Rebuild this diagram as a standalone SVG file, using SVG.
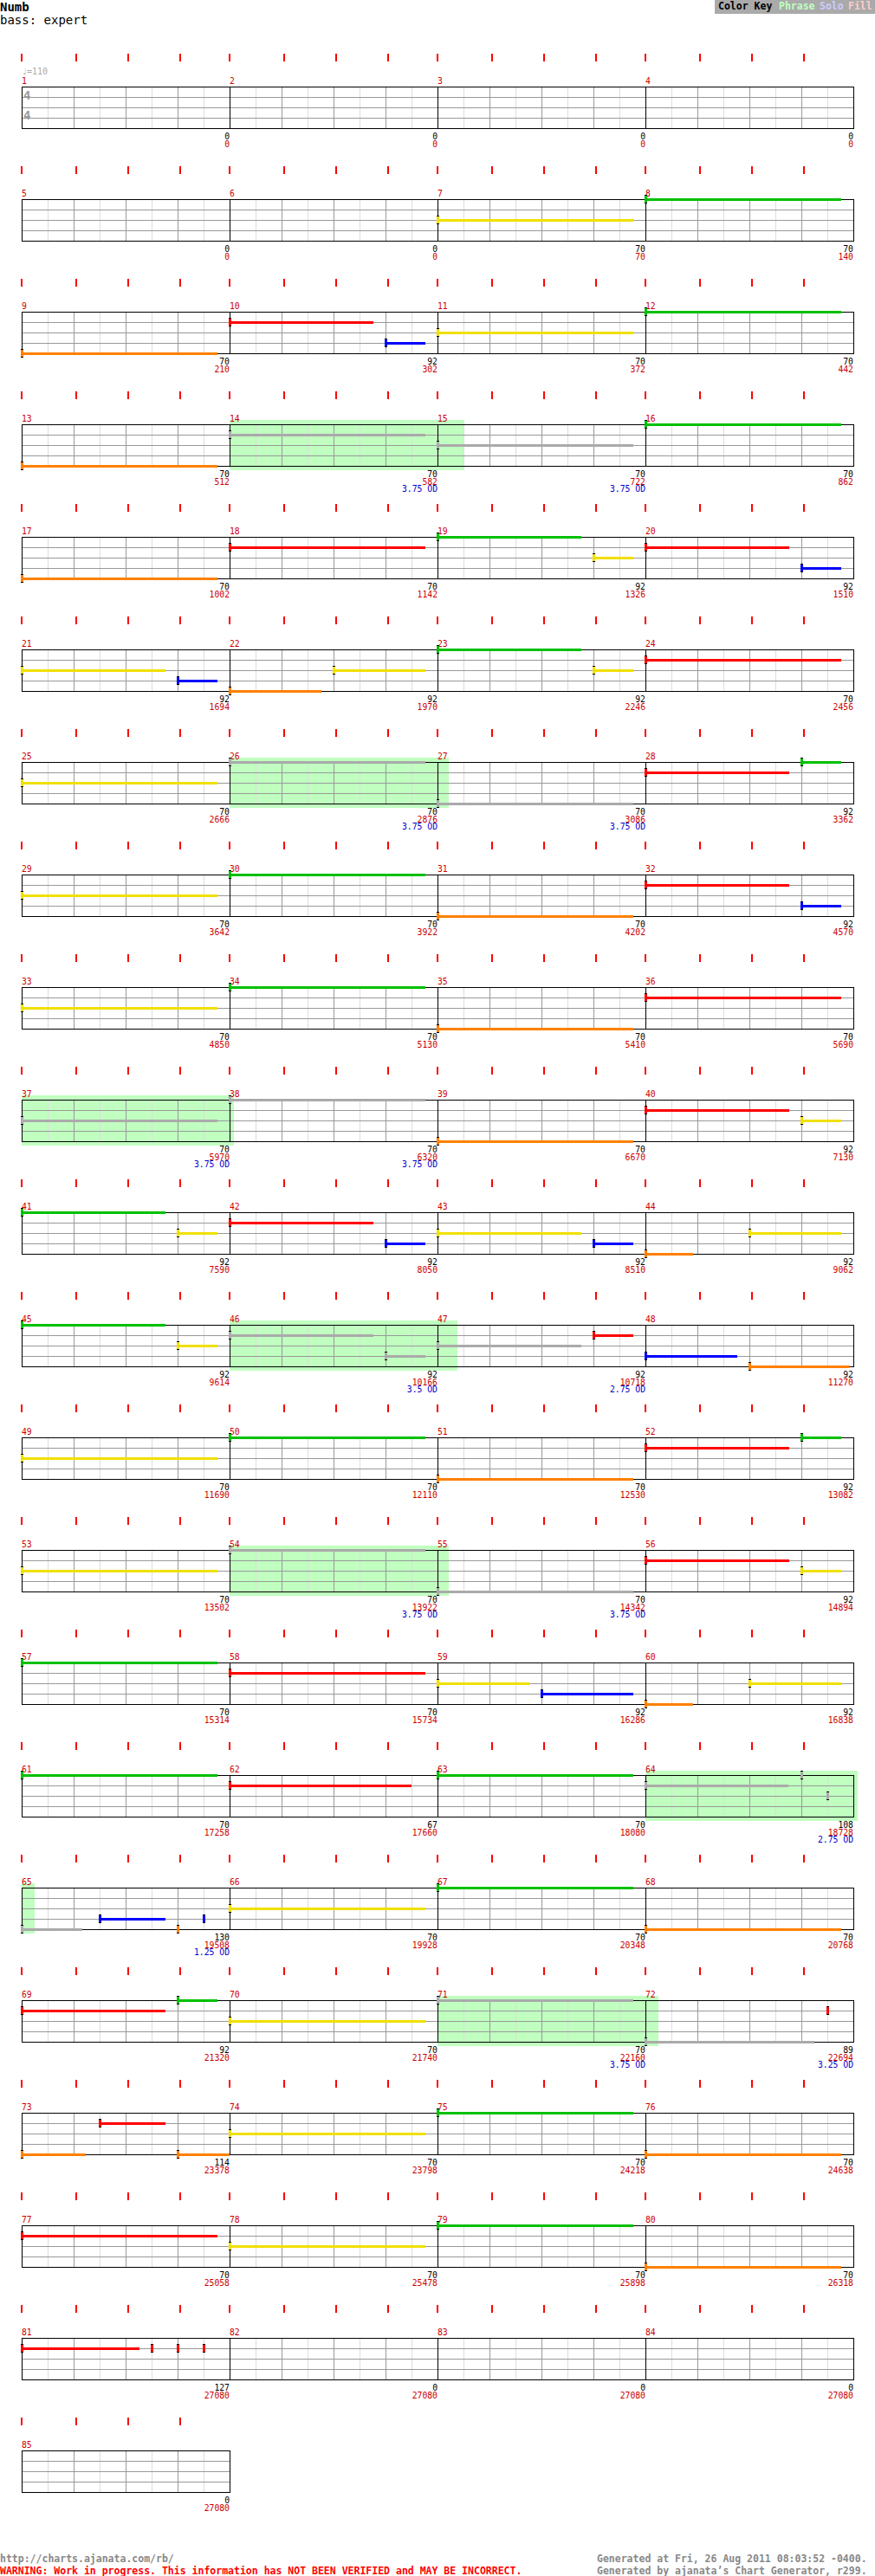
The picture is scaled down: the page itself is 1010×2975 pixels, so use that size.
<svg xmlns="http://www.w3.org/2000/svg" xmlns:xlink="http://www.w3.org/1999/xlink" width="1010" height="2975" viewBox="0 0 1010 2975">
<style>
text{font-family:"DejaVu Sans Mono","Liberation Mono",monospace}
.mn{font-size:9.75px;fill:#c00}
.sc{font-size:9.75px;fill:#000;text-anchor:end}
.cu{font-size:9.75px;fill:#c00;text-anchor:end}
.od{font-size:9.75px;fill:#00c;text-anchor:end}
.G{fill:#00c000}.R{fill:#f00}.Y{fill:#f0e000}.B{fill:#00f}.O{fill:#ff8000}.X{fill:#aaa}
.ph{fill:#c0ffc0}
.ft{font-size:11.5px;font-weight:bold}
</style>
<defs>
<g id="grid" fill="none">
<path d="M30.5 0V48M90.5 0V48M150.5 0V48M210.5 0V48" stroke="#ddd"/>
<path d="M60.5 0V48M120.5 0V48M180.5 0V48M0 12.5H240M0 24.5H240M0 36.5H240" stroke="#999"/>
<path d="M0.5 0V49M240.5 0V49M0 0.5H241M0 48.5H241" stroke="#000"/>
</g>
<g id="tk" fill="#f00"><rect x="-1" y="-38" width="2" height="9"/><rect x="62" y="-38" width="2" height="9"/><rect x="122" y="-38" width="2" height="9"/><rect x="182" y="-38" width="2" height="9"/></g>
<g id="kG"><rect x="-1" y="-5" width="3" height="10"/><rect class="G" x="-1" y="-4" width="3" height="8"/></g>
<g id="kR"><rect x="-1" y="-5" width="3" height="10"/><rect class="R" x="-1" y="-4" width="3" height="8"/></g>
<g id="kY"><rect x="-1" y="-5" width="3" height="10"/><rect class="Y" x="-1" y="-4" width="3" height="8"/></g>
<g id="kB"><rect x="-1" y="-5" width="3" height="10"/><rect class="B" x="-1" y="-4" width="3" height="8"/></g>
<g id="kO"><rect x="-1" y="-5" width="3" height="10"/><rect class="O" x="-1" y="-4" width="3" height="8"/></g>
<g id="kX"><rect x="-1" y="-5" width="3" height="10"/><rect class="X" x="-1" y="-4" width="3" height="8"/></g>
</defs>
<rect width="1010" height="2975" fill="#fff"/>
<g id="header">
<text x="0" y="12.7" style="font-size:14px;font-weight:bold">Numb</text>
<text x="0" y="28" style="font-size:14px">bass: expert</text>
<rect x="825" y="0" width="185" height="16" fill="#aaa"/>
<text class="ft" x="829" y="11" fill="#000">Color Key</text>
<text class="ft" x="899" y="11" fill="#c0ffc0">Phrase</text>
<text class="ft" x="946" y="11" fill="#ccf">Solo</text>
<text class="ft" x="979" y="11" fill="#fcc">Fill</text>
</g>
<g id="phrases">
<rect class="ph" x="265" y="485" width="271" height="58"/>
<rect class="ph" x="265" y="875" width="253" height="58"/>
<rect class="ph" x="25" y="1265" width="245" height="58"/>
<rect class="ph" x="265" y="1525" width="263" height="58"/>
<rect class="ph" x="265" y="1785" width="253" height="58"/>
<rect class="ph" x="745" y="2045" width="245" height="58"/>
<rect class="ph" x="25" y="2175" width="15" height="58"/>
<rect class="ph" x="505" y="2305" width="255" height="58"/>
</g>
<g id="m1" transform="translate(25,100)"><use href="#grid"/><use href="#tk"/><text class="mn" y="-3">1</text><text x="0" y="-14" style="font-size:10px;fill:#aaa">♩=110</text><text x="2" y="15" style="font-size:14px;font-weight:bold;fill:#999">4</text><text x="2" y="38" style="font-size:14px;font-weight:bold;fill:#999">4</text><text class="sc" x="240" y="61">0</text><text class="cu" x="240" y="69.5">0</text></g>
<g id="m2" transform="translate(265,100)"><use href="#grid"/><use href="#tk"/><text class="mn" y="-3">2</text><text class="sc" x="240" y="61">0</text><text class="cu" x="240" y="69.5">0</text></g>
<g id="m3" transform="translate(505,100)"><use href="#grid"/><use href="#tk"/><text class="mn" y="-3">3</text><text class="sc" x="240" y="61">0</text><text class="cu" x="240" y="69.5">0</text></g>
<g id="m4" transform="translate(745,100)"><use href="#grid"/><use href="#tk"/><text class="mn" y="-3">4</text><text class="sc" x="240" y="61">0</text><text class="cu" x="240" y="69.5">0</text></g>

<g id="m5" transform="translate(25,230)"><use href="#grid"/><use href="#tk"/><text class="mn" y="-3">5</text><text class="sc" x="240" y="61">0</text><text class="cu" x="240" y="69.5">0</text></g>
<g id="m6" transform="translate(265,230)"><use href="#grid"/><use href="#tk"/><text class="mn" y="-3">6</text><text class="sc" x="240" y="61">0</text><text class="cu" x="240" y="69.5">0</text></g>
<g id="m7" transform="translate(505,230)"><use href="#grid"/><use href="#tk"/><text class="mn" y="-3">7</text><rect class="Y" x="0" y="23" width="226" height="3"/><use href="#kY" y="24"/><text class="sc" x="240" y="61">70</text><text class="cu" x="240" y="69.5">70</text></g>
<g id="m8" transform="translate(745,230)"><use href="#grid"/><use href="#tk"/><text class="mn" y="-3">8</text><rect class="G" x="0" y="-1" width="226" height="3"/><use href="#kG" y="0"/><text class="sc" x="240" y="61">70</text><text class="cu" x="240" y="69.5">140</text></g>

<g id="m9" transform="translate(25,360)"><use href="#grid"/><use href="#tk"/><text class="mn" y="-3">9</text><rect class="O" x="0" y="47" width="226" height="3"/><use href="#kO" y="48"/><text class="sc" x="240" y="61">70</text><text class="cu" x="240" y="69.5">210</text></g>
<g id="m10" transform="translate(265,360)"><use href="#grid"/><use href="#tk"/><text class="mn" y="-3">10</text><rect class="R" x="0" y="11" width="166" height="3"/><use href="#kR" y="12"/><rect class="B" x="180" y="35" width="46" height="3"/><use href="#kB" x="180" y="36"/><text class="sc" x="240" y="61">92</text><text class="cu" x="240" y="69.5">302</text></g>
<g id="m11" transform="translate(505,360)"><use href="#grid"/><use href="#tk"/><text class="mn" y="-3">11</text><rect class="Y" x="0" y="23" width="226" height="3"/><use href="#kY" y="24"/><text class="sc" x="240" y="61">70</text><text class="cu" x="240" y="69.5">372</text></g>
<g id="m12" transform="translate(745,360)"><use href="#grid"/><use href="#tk"/><text class="mn" y="-3">12</text><rect class="G" x="0" y="-1" width="226" height="3"/><use href="#kG" y="0"/><text class="sc" x="240" y="61">70</text><text class="cu" x="240" y="69.5">442</text></g>

<g id="m13" transform="translate(25,490)"><use href="#grid"/><use href="#tk"/><text class="mn" y="-3">13</text><rect class="O" x="0" y="47" width="226" height="3"/><use href="#kO" y="48"/><text class="sc" x="240" y="61">70</text><text class="cu" x="240" y="69.5">512</text></g>
<g id="m14" transform="translate(265,490)"><use href="#grid"/><use href="#tk"/><text class="mn" y="-3">14</text><rect class="X" x="0" y="11" width="226" height="3"/><use href="#kX" y="12"/><text class="sc" x="240" y="61">70</text><text class="cu" x="240" y="69.5">582</text><text class="od" x="240" y="78">3.75 OD</text></g>
<g id="m15" transform="translate(505,490)"><use href="#grid"/><use href="#tk"/><text class="mn" y="-3">15</text><rect class="X" x="0" y="23" width="226" height="3"/><use href="#kX" y="24"/><text class="sc" x="240" y="61">70</text><text class="cu" x="240" y="69.5">722</text><text class="od" x="240" y="78">3.75 OD</text></g>
<g id="m16" transform="translate(745,490)"><use href="#grid"/><use href="#tk"/><text class="mn" y="-3">16</text><rect class="G" x="0" y="-1" width="226" height="3"/><use href="#kG" y="0"/><text class="sc" x="240" y="61">70</text><text class="cu" x="240" y="69.5">862</text></g>

<g id="m17" transform="translate(25,620)"><use href="#grid"/><use href="#tk"/><text class="mn" y="-3">17</text><rect class="O" x="0" y="47" width="226" height="3"/><use href="#kO" y="48"/><text class="sc" x="240" y="61">70</text><text class="cu" x="240" y="69.5">1002</text></g>
<g id="m18" transform="translate(265,620)"><use href="#grid"/><use href="#tk"/><text class="mn" y="-3">18</text><rect class="R" x="0" y="11" width="226" height="3"/><use href="#kR" y="12"/><text class="sc" x="240" y="61">70</text><text class="cu" x="240" y="69.5">1142</text></g>
<g id="m19" transform="translate(505,620)"><use href="#grid"/><use href="#tk"/><text class="mn" y="-3">19</text><rect class="G" x="0" y="-1" width="166" height="3"/><use href="#kG" y="0"/><rect class="Y" x="180" y="23" width="46" height="3"/><use href="#kY" x="180" y="24"/><text class="sc" x="240" y="61">92</text><text class="cu" x="240" y="69.5">1326</text></g>
<g id="m20" transform="translate(745,620)"><use href="#grid"/><use href="#tk"/><text class="mn" y="-3">20</text><rect class="R" x="0" y="11" width="166" height="3"/><use href="#kR" y="12"/><rect class="B" x="180" y="35" width="46" height="3"/><use href="#kB" x="180" y="36"/><text class="sc" x="240" y="61">92</text><text class="cu" x="240" y="69.5">1510</text></g>

<g id="m21" transform="translate(25,750)"><use href="#grid"/><use href="#tk"/><text class="mn" y="-3">21</text><rect class="Y" x="0" y="23" width="166" height="3"/><use href="#kY" y="24"/><rect class="B" x="180" y="35" width="46" height="3"/><use href="#kB" x="180" y="36"/><text class="sc" x="240" y="61">92</text><text class="cu" x="240" y="69.5">1694</text></g>
<g id="m22" transform="translate(265,750)"><use href="#grid"/><use href="#tk"/><text class="mn" y="-3">22</text><rect class="O" x="0" y="47" width="106" height="3"/><use href="#kO" y="48"/><rect class="Y" x="120" y="23" width="106" height="3"/><use href="#kY" x="120" y="24"/><text class="sc" x="240" y="61">92</text><text class="cu" x="240" y="69.5">1970</text></g>
<g id="m23" transform="translate(505,750)"><use href="#grid"/><use href="#tk"/><text class="mn" y="-3">23</text><rect class="G" x="0" y="-1" width="166" height="3"/><use href="#kG" y="0"/><rect class="Y" x="180" y="23" width="46" height="3"/><use href="#kY" x="180" y="24"/><text class="sc" x="240" y="61">92</text><text class="cu" x="240" y="69.5">2246</text></g>
<g id="m24" transform="translate(745,750)"><use href="#grid"/><use href="#tk"/><text class="mn" y="-3">24</text><rect class="R" x="0" y="11" width="226" height="3"/><use href="#kR" y="12"/><text class="sc" x="240" y="61">70</text><text class="cu" x="240" y="69.5">2456</text></g>

<g id="m25" transform="translate(25,880)"><use href="#grid"/><use href="#tk"/><text class="mn" y="-3">25</text><rect class="Y" x="0" y="23" width="226" height="3"/><use href="#kY" y="24"/><text class="sc" x="240" y="61">70</text><text class="cu" x="240" y="69.5">2666</text></g>
<g id="m26" transform="translate(265,880)"><use href="#grid"/><use href="#tk"/><text class="mn" y="-3">26</text><rect class="X" x="0" y="-1" width="226" height="3"/><use href="#kX" y="0"/><text class="sc" x="240" y="61">70</text><text class="cu" x="240" y="69.5">2876</text><text class="od" x="240" y="78">3.75 OD</text></g>
<g id="m27" transform="translate(505,880)"><use href="#grid"/><use href="#tk"/><text class="mn" y="-3">27</text><rect class="X" x="0" y="47" width="226" height="3"/><use href="#kX" y="48"/><text class="sc" x="240" y="61">70</text><text class="cu" x="240" y="69.5">3086</text><text class="od" x="240" y="78">3.75 OD</text></g>
<g id="m28" transform="translate(745,880)"><use href="#grid"/><use href="#tk"/><text class="mn" y="-3">28</text><rect class="R" x="0" y="11" width="166" height="3"/><use href="#kR" y="12"/><rect class="G" x="180" y="-1" width="46" height="3"/><use href="#kG" x="180" y="0"/><text class="sc" x="240" y="61">92</text><text class="cu" x="240" y="69.5">3362</text></g>

<g id="m29" transform="translate(25,1010)"><use href="#grid"/><use href="#tk"/><text class="mn" y="-3">29</text><rect class="Y" x="0" y="23" width="226" height="3"/><use href="#kY" y="24"/><text class="sc" x="240" y="61">70</text><text class="cu" x="240" y="69.5">3642</text></g>
<g id="m30" transform="translate(265,1010)"><use href="#grid"/><use href="#tk"/><text class="mn" y="-3">30</text><rect class="G" x="0" y="-1" width="226" height="3"/><use href="#kG" y="0"/><text class="sc" x="240" y="61">70</text><text class="cu" x="240" y="69.5">3922</text></g>
<g id="m31" transform="translate(505,1010)"><use href="#grid"/><use href="#tk"/><text class="mn" y="-3">31</text><rect class="O" x="0" y="47" width="226" height="3"/><use href="#kO" y="48"/><text class="sc" x="240" y="61">70</text><text class="cu" x="240" y="69.5">4202</text></g>
<g id="m32" transform="translate(745,1010)"><use href="#grid"/><use href="#tk"/><text class="mn" y="-3">32</text><rect class="R" x="0" y="11" width="166" height="3"/><use href="#kR" y="12"/><rect class="B" x="180" y="35" width="46" height="3"/><use href="#kB" x="180" y="36"/><text class="sc" x="240" y="61">92</text><text class="cu" x="240" y="69.5">4570</text></g>

<g id="m33" transform="translate(25,1140)"><use href="#grid"/><use href="#tk"/><text class="mn" y="-3">33</text><rect class="Y" x="0" y="23" width="226" height="3"/><use href="#kY" y="24"/><text class="sc" x="240" y="61">70</text><text class="cu" x="240" y="69.5">4850</text></g>
<g id="m34" transform="translate(265,1140)"><use href="#grid"/><use href="#tk"/><text class="mn" y="-3">34</text><rect class="G" x="0" y="-1" width="226" height="3"/><use href="#kG" y="0"/><text class="sc" x="240" y="61">70</text><text class="cu" x="240" y="69.5">5130</text></g>
<g id="m35" transform="translate(505,1140)"><use href="#grid"/><use href="#tk"/><text class="mn" y="-3">35</text><rect class="O" x="0" y="47" width="226" height="3"/><use href="#kO" y="48"/><text class="sc" x="240" y="61">70</text><text class="cu" x="240" y="69.5">5410</text></g>
<g id="m36" transform="translate(745,1140)"><use href="#grid"/><use href="#tk"/><text class="mn" y="-3">36</text><rect class="R" x="0" y="11" width="226" height="3"/><use href="#kR" y="12"/><text class="sc" x="240" y="61">70</text><text class="cu" x="240" y="69.5">5690</text></g>

<g id="m37" transform="translate(25,1270)"><use href="#grid"/><use href="#tk"/><text class="mn" y="-3">37</text><rect class="X" x="0" y="23" width="226" height="3"/><use href="#kX" y="24"/><text class="sc" x="240" y="61">70</text><text class="cu" x="240" y="69.5">5970</text><text class="od" x="240" y="78">3.75 OD</text></g>
<g id="m38" transform="translate(265,1270)"><use href="#grid"/><use href="#tk"/><text class="mn" y="-3">38</text><rect class="X" x="0" y="-1" width="226" height="3"/><use href="#kX" y="0"/><text class="sc" x="240" y="61">70</text><text class="cu" x="240" y="69.5">6320</text><text class="od" x="240" y="78">3.75 OD</text></g>
<g id="m39" transform="translate(505,1270)"><use href="#grid"/><use href="#tk"/><text class="mn" y="-3">39</text><rect class="O" x="0" y="47" width="226" height="3"/><use href="#kO" y="48"/><text class="sc" x="240" y="61">70</text><text class="cu" x="240" y="69.5">6670</text></g>
<g id="m40" transform="translate(745,1270)"><use href="#grid"/><use href="#tk"/><text class="mn" y="-3">40</text><rect class="R" x="0" y="11" width="166" height="3"/><use href="#kR" y="12"/><rect class="Y" x="180" y="23" width="46" height="3"/><use href="#kY" x="180" y="24"/><text class="sc" x="240" y="61">92</text><text class="cu" x="240" y="69.5">7130</text></g>

<g id="m41" transform="translate(25,1400)"><use href="#grid"/><use href="#tk"/><text class="mn" y="-3">41</text><rect class="G" x="0" y="-1" width="166" height="3"/><use href="#kG" y="0"/><rect class="Y" x="180" y="23" width="46" height="3"/><use href="#kY" x="180" y="24"/><text class="sc" x="240" y="61">92</text><text class="cu" x="240" y="69.5">7590</text></g>
<g id="m42" transform="translate(265,1400)"><use href="#grid"/><use href="#tk"/><text class="mn" y="-3">42</text><rect class="R" x="0" y="11" width="166" height="3"/><use href="#kR" y="12"/><rect class="B" x="180" y="35" width="46" height="3"/><use href="#kB" x="180" y="36"/><text class="sc" x="240" y="61">92</text><text class="cu" x="240" y="69.5">8050</text></g>
<g id="m43" transform="translate(505,1400)"><use href="#grid"/><use href="#tk"/><text class="mn" y="-3">43</text><rect class="Y" x="0" y="23" width="166" height="3"/><use href="#kY" y="24"/><rect class="B" x="180" y="35" width="46" height="3"/><use href="#kB" x="180" y="36"/><text class="sc" x="240" y="61">92</text><text class="cu" x="240" y="69.5">8510</text></g>
<g id="m44" transform="translate(745,1400)"><use href="#grid"/><use href="#tk"/><text class="mn" y="-3">44</text><rect class="O" x="0" y="47" width="55" height="3"/><use href="#kO" y="48"/><rect class="Y" x="120" y="23" width="106" height="3"/><use href="#kY" x="120" y="24"/><text class="sc" x="240" y="61">92</text><text class="cu" x="240" y="69.5">9062</text></g>

<g id="m45" transform="translate(25,1530)"><use href="#grid"/><use href="#tk"/><text class="mn" y="-3">45</text><rect class="G" x="0" y="-1" width="166" height="3"/><use href="#kG" y="0"/><rect class="Y" x="180" y="23" width="46" height="3"/><use href="#kY" x="180" y="24"/><text class="sc" x="240" y="61">92</text><text class="cu" x="240" y="69.5">9614</text></g>
<g id="m46" transform="translate(265,1530)"><use href="#grid"/><use href="#tk"/><text class="mn" y="-3">46</text><rect class="X" x="0" y="11" width="166" height="3"/><use href="#kX" y="12"/><rect class="X" x="180" y="35" width="46" height="3"/><use href="#kX" x="180" y="36"/><text class="sc" x="240" y="61">92</text><text class="cu" x="240" y="69.5">10166</text><text class="od" x="240" y="78">3.5 OD</text></g>
<g id="m47" transform="translate(505,1530)"><use href="#grid"/><use href="#tk"/><text class="mn" y="-3">47</text><rect class="X" x="0" y="23" width="166" height="3"/><use href="#kX" y="24"/><rect class="R" x="180" y="11" width="46" height="3"/><use href="#kR" x="180" y="12"/><text class="sc" x="240" y="61">92</text><text class="cu" x="240" y="69.5">10718</text><text class="od" x="240" y="78">2.75 OD</text></g>
<g id="m48" transform="translate(745,1530)"><use href="#grid"/><use href="#tk"/><text class="mn" y="-3">48</text><rect class="B" x="0" y="35" width="106" height="3"/><use href="#kB" y="36"/><rect class="O" x="120" y="47" width="115" height="3"/><use href="#kO" x="120" y="48"/><text class="sc" x="240" y="61">92</text><text class="cu" x="240" y="69.5">11270</text></g>

<g id="m49" transform="translate(25,1660)"><use href="#grid"/><use href="#tk"/><text class="mn" y="-3">49</text><rect class="Y" x="0" y="23" width="226" height="3"/><use href="#kY" y="24"/><text class="sc" x="240" y="61">70</text><text class="cu" x="240" y="69.5">11690</text></g>
<g id="m50" transform="translate(265,1660)"><use href="#grid"/><use href="#tk"/><text class="mn" y="-3">50</text><rect class="G" x="0" y="-1" width="226" height="3"/><use href="#kG" y="0"/><text class="sc" x="240" y="61">70</text><text class="cu" x="240" y="69.5">12110</text></g>
<g id="m51" transform="translate(505,1660)"><use href="#grid"/><use href="#tk"/><text class="mn" y="-3">51</text><rect class="O" x="0" y="47" width="226" height="3"/><use href="#kO" y="48"/><text class="sc" x="240" y="61">70</text><text class="cu" x="240" y="69.5">12530</text></g>
<g id="m52" transform="translate(745,1660)"><use href="#grid"/><use href="#tk"/><text class="mn" y="-3">52</text><rect class="R" x="0" y="11" width="166" height="3"/><use href="#kR" y="12"/><rect class="G" x="180" y="-1" width="46" height="3"/><use href="#kG" x="180" y="0"/><text class="sc" x="240" y="61">92</text><text class="cu" x="240" y="69.5">13082</text></g>

<g id="m53" transform="translate(25,1790)"><use href="#grid"/><use href="#tk"/><text class="mn" y="-3">53</text><rect class="Y" x="0" y="23" width="226" height="3"/><use href="#kY" y="24"/><text class="sc" x="240" y="61">70</text><text class="cu" x="240" y="69.5">13502</text></g>
<g id="m54" transform="translate(265,1790)"><use href="#grid"/><use href="#tk"/><text class="mn" y="-3">54</text><rect class="X" x="0" y="-1" width="226" height="3"/><use href="#kX" y="0"/><text class="sc" x="240" y="61">70</text><text class="cu" x="240" y="69.5">13922</text><text class="od" x="240" y="78">3.75 OD</text></g>
<g id="m55" transform="translate(505,1790)"><use href="#grid"/><use href="#tk"/><text class="mn" y="-3">55</text><rect class="X" x="0" y="47" width="226" height="3"/><use href="#kX" y="48"/><text class="sc" x="240" y="61">70</text><text class="cu" x="240" y="69.5">14342</text><text class="od" x="240" y="78">3.75 OD</text></g>
<g id="m56" transform="translate(745,1790)"><use href="#grid"/><use href="#tk"/><text class="mn" y="-3">56</text><rect class="R" x="0" y="11" width="166" height="3"/><use href="#kR" y="12"/><rect class="Y" x="180" y="23" width="46" height="3"/><use href="#kY" x="180" y="24"/><text class="sc" x="240" y="61">92</text><text class="cu" x="240" y="69.5">14894</text></g>

<g id="m57" transform="translate(25,1920)"><use href="#grid"/><use href="#tk"/><text class="mn" y="-3">57</text><rect class="G" x="0" y="-1" width="226" height="3"/><use href="#kG" y="0"/><text class="sc" x="240" y="61">70</text><text class="cu" x="240" y="69.5">15314</text></g>
<g id="m58" transform="translate(265,1920)"><use href="#grid"/><use href="#tk"/><text class="mn" y="-3">58</text><rect class="R" x="0" y="11" width="226" height="3"/><use href="#kR" y="12"/><text class="sc" x="240" y="61">70</text><text class="cu" x="240" y="69.5">15734</text></g>
<g id="m59" transform="translate(505,1920)"><use href="#grid"/><use href="#tk"/><text class="mn" y="-3">59</text><rect class="Y" x="0" y="23" width="106" height="3"/><use href="#kY" y="24"/><rect class="B" x="120" y="35" width="106" height="3"/><use href="#kB" x="120" y="36"/><text class="sc" x="240" y="61">92</text><text class="cu" x="240" y="69.5">16286</text></g>
<g id="m60" transform="translate(745,1920)"><use href="#grid"/><use href="#tk"/><text class="mn" y="-3">60</text><rect class="O" x="0" y="47" width="55" height="3"/><use href="#kO" y="48"/><rect class="Y" x="120" y="23" width="106" height="3"/><use href="#kY" x="120" y="24"/><text class="sc" x="240" y="61">92</text><text class="cu" x="240" y="69.5">16838</text></g>

<g id="m61" transform="translate(25,2050)"><use href="#grid"/><use href="#tk"/><text class="mn" y="-3">61</text><rect class="G" x="0" y="-1" width="226" height="3"/><use href="#kG" y="0"/><text class="sc" x="240" y="61">70</text><text class="cu" x="240" y="69.5">17258</text></g>
<g id="m62" transform="translate(265,2050)"><use href="#grid"/><use href="#tk"/><text class="mn" y="-3">62</text><rect class="R" x="0" y="11" width="210" height="3"/><use href="#kR" y="12"/><text class="sc" x="240" y="61">67</text><text class="cu" x="240" y="69.5">17660</text></g>
<g id="m63" transform="translate(505,2050)"><use href="#grid"/><use href="#tk"/><text class="mn" y="-3">63</text><rect class="G" x="0" y="-1" width="226" height="3"/><use href="#kG" y="0"/><text class="sc" x="240" y="61">70</text><text class="cu" x="240" y="69.5">18080</text></g>
<g id="m64" transform="translate(745,2050)"><use href="#grid"/><use href="#tk"/><text class="mn" y="-3">64</text><rect class="X" x="0" y="11" width="165" height="3"/><use href="#kX" y="12"/><use href="#kX" x="180" y="0"/><use href="#kX" x="210" y="24"/><text class="sc" x="240" y="61">108</text><text class="cu" x="240" y="69.5">18728</text><text class="od" x="240" y="78">2.75 OD</text></g>

<g id="m65" transform="translate(25,2180)"><use href="#grid"/><use href="#tk"/><text class="mn" y="-3">65</text><rect class="X" x="0" y="47" width="70" height="3"/><use href="#kX" y="48"/><rect class="B" x="90" y="35" width="76" height="3"/><use href="#kB" x="90" y="36"/><use href="#kB" x="210" y="36"/><use href="#kO" x="180" y="48"/><text class="sc" x="240" y="61">130</text><text class="cu" x="240" y="69.5">19508</text><text class="od" x="240" y="78">1.25 OD</text></g>
<g id="m66" transform="translate(265,2180)"><use href="#grid"/><use href="#tk"/><text class="mn" y="-3">66</text><rect class="Y" x="0" y="23" width="226" height="3"/><use href="#kY" y="24"/><text class="sc" x="240" y="61">70</text><text class="cu" x="240" y="69.5">19928</text></g>
<g id="m67" transform="translate(505,2180)"><use href="#grid"/><use href="#tk"/><text class="mn" y="-3">67</text><rect class="G" x="0" y="-1" width="226" height="3"/><use href="#kG" y="0"/><text class="sc" x="240" y="61">70</text><text class="cu" x="240" y="69.5">20348</text></g>
<g id="m68" transform="translate(745,2180)"><use href="#grid"/><use href="#tk"/><text class="mn" y="-3">68</text><rect class="O" x="0" y="47" width="226" height="3"/><use href="#kO" y="48"/><text class="sc" x="240" y="61">70</text><text class="cu" x="240" y="69.5">20768</text></g>

<g id="m69" transform="translate(25,2310)"><use href="#grid"/><use href="#tk"/><text class="mn" y="-3">69</text><rect class="R" x="0" y="11" width="166" height="3"/><use href="#kR" y="12"/><rect class="G" x="180" y="-1" width="46" height="3"/><use href="#kG" x="180" y="0"/><text class="sc" x="240" y="61">92</text><text class="cu" x="240" y="69.5">21320</text></g>
<g id="m70" transform="translate(265,2310)"><use href="#grid"/><use href="#tk"/><text class="mn" y="-3">70</text><rect class="Y" x="0" y="23" width="226" height="3"/><use href="#kY" y="24"/><text class="sc" x="240" y="61">70</text><text class="cu" x="240" y="69.5">21740</text></g>
<g id="m71" transform="translate(505,2310)"><use href="#grid"/><use href="#tk"/><text class="mn" y="-3">71</text><rect class="X" x="0" y="-1" width="226" height="3"/><use href="#kX" y="0"/><text class="sc" x="240" y="61">70</text><text class="cu" x="240" y="69.5">22160</text><text class="od" x="240" y="78">3.75 OD</text></g>
<g id="m72" transform="translate(745,2310)"><use href="#grid"/><use href="#tk"/><text class="mn" y="-3">72</text><rect class="X" x="0" y="47" width="195" height="3"/><use href="#kX" y="48"/><use href="#kR" x="210" y="12"/><text class="sc" x="240" y="61">89</text><text class="cu" x="240" y="69.5">22694</text><text class="od" x="240" y="78">3.25 OD</text></g>

<g id="m73" transform="translate(25,2440)"><use href="#grid"/><use href="#tk"/><text class="mn" y="-3">73</text><rect class="O" x="0" y="47" width="74" height="3"/><use href="#kO" y="48"/><rect class="R" x="90" y="11" width="76" height="3"/><use href="#kR" x="90" y="12"/><rect class="O" x="180" y="47" width="60" height="3"/><use href="#kO" x="180" y="48"/><text class="sc" x="240" y="61">114</text><text class="cu" x="240" y="69.5">23378</text></g>
<g id="m74" transform="translate(265,2440)"><use href="#grid"/><use href="#tk"/><text class="mn" y="-3">74</text><rect class="Y" x="0" y="23" width="226" height="3"/><use href="#kY" y="24"/><text class="sc" x="240" y="61">70</text><text class="cu" x="240" y="69.5">23798</text></g>
<g id="m75" transform="translate(505,2440)"><use href="#grid"/><use href="#tk"/><text class="mn" y="-3">75</text><rect class="G" x="0" y="-1" width="226" height="3"/><use href="#kG" y="0"/><text class="sc" x="240" y="61">70</text><text class="cu" x="240" y="69.5">24218</text></g>
<g id="m76" transform="translate(745,2440)"><use href="#grid"/><use href="#tk"/><text class="mn" y="-3">76</text><rect class="O" x="0" y="47" width="226" height="3"/><use href="#kO" y="48"/><text class="sc" x="240" y="61">70</text><text class="cu" x="240" y="69.5">24638</text></g>

<g id="m77" transform="translate(25,2570)"><use href="#grid"/><use href="#tk"/><text class="mn" y="-3">77</text><rect class="R" x="0" y="11" width="226" height="3"/><use href="#kR" y="12"/><text class="sc" x="240" y="61">70</text><text class="cu" x="240" y="69.5">25058</text></g>
<g id="m78" transform="translate(265,2570)"><use href="#grid"/><use href="#tk"/><text class="mn" y="-3">78</text><rect class="Y" x="0" y="23" width="226" height="3"/><use href="#kY" y="24"/><text class="sc" x="240" y="61">70</text><text class="cu" x="240" y="69.5">25478</text></g>
<g id="m79" transform="translate(505,2570)"><use href="#grid"/><use href="#tk"/><text class="mn" y="-3">79</text><rect class="G" x="0" y="-1" width="226" height="3"/><use href="#kG" y="0"/><text class="sc" x="240" y="61">70</text><text class="cu" x="240" y="69.5">25898</text></g>
<g id="m80" transform="translate(745,2570)"><use href="#grid"/><use href="#tk"/><text class="mn" y="-3">80</text><rect class="O" x="0" y="47" width="226" height="3"/><use href="#kO" y="48"/><text class="sc" x="240" y="61">70</text><text class="cu" x="240" y="69.5">26318</text></g>

<g id="m81" transform="translate(25,2700)"><use href="#grid"/><use href="#tk"/><text class="mn" y="-3">81</text><rect class="R" x="0" y="11" width="136" height="3"/><use href="#kR" y="12"/><use href="#kR" x="150" y="12"/><use href="#kR" x="180" y="12"/><use href="#kR" x="210" y="12"/><text class="sc" x="240" y="61">127</text><text class="cu" x="240" y="69.5">27080</text></g>
<g id="m82" transform="translate(265,2700)"><use href="#grid"/><use href="#tk"/><text class="mn" y="-3">82</text><text class="sc" x="240" y="61">0</text><text class="cu" x="240" y="69.5">27080</text></g>
<g id="m83" transform="translate(505,2700)"><use href="#grid"/><use href="#tk"/><text class="mn" y="-3">83</text><text class="sc" x="240" y="61">0</text><text class="cu" x="240" y="69.5">27080</text></g>
<g id="m84" transform="translate(745,2700)"><use href="#grid"/><use href="#tk"/><text class="mn" y="-3">84</text><text class="sc" x="240" y="61">0</text><text class="cu" x="240" y="69.5">27080</text></g>

<g id="m85" transform="translate(25,2830)"><use href="#grid"/><use href="#tk"/><text class="mn" y="-3">85</text><text class="sc" x="240" y="61">0</text><text class="cu" x="240" y="69.5">27080</text></g>

<g id="footer">
<text class="ft" x="0" y="2959" fill="#888">http://charts.ajanata.com/rb/</text>
<text class="ft" x="0" y="2973" fill="#f00">WARNING: Work in progress. This information has NOT BEEN VERIFIED and MAY BE INCORRECT.</text>
<text class="ft" x="689" y="2959" fill="#888">Generated at Fri, 26 Aug 2011 08:03:52 -0400.</text>
<text class="ft" x="689" y="2973" fill="#888">Generated by ajanata’s Chart Generator, r299.</text>
</g>
<g id="connectors"/>
</svg>
